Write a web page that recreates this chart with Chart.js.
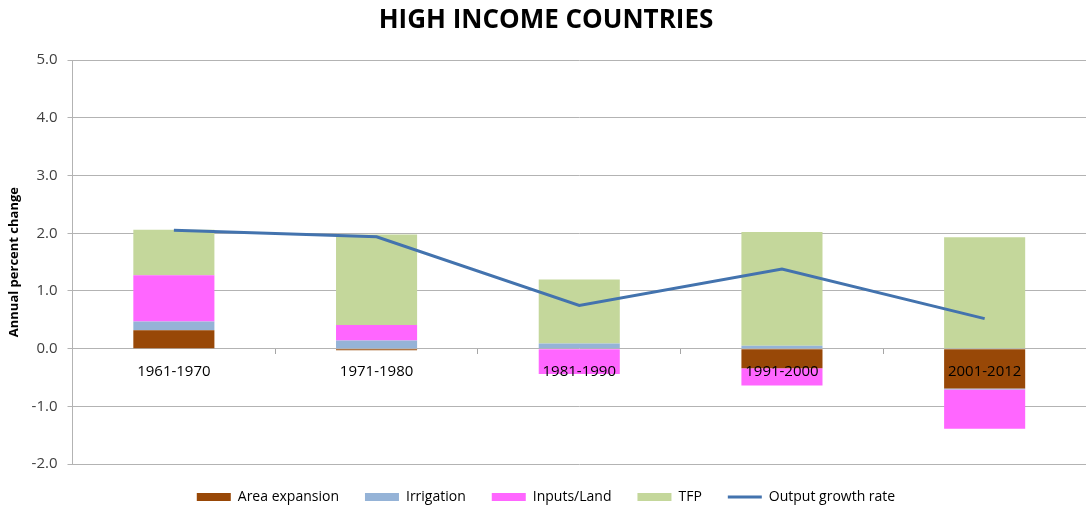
<!DOCTYPE html>
<html>
<head>
<meta charset="utf-8">
<script src="https://cdn.jsdelivr.net/npm/chart.js@4.4.0/dist/chart.umd.min.js"></script>
<style>
html,body{margin:0;padding:0;background:#fff;}
#wrap{width:1086px;height:512px;position:relative;}
</style>
</head>
<body>
<div id="wrap"><canvas id="c" width="1086" height="512"></canvas></div>
<script>
const categories = ['1961-1970', '1971-1980', '1981-1990', '1991-2000', '2001-2012'];
const areaExpansion = [0.32, -0.03, 0.00, -0.34, -0.69];
const irrigation = [0.15, 0.14, 0.09, 0.05, -0.02];
const inputsLand = [0.80, 0.27, -0.44, -0.30, -0.68];
const tfp = [0.79, 1.57, 1.11, 1.97, 1.93];
const outputGrowth = [2.05, 1.94, 0.75, 1.38, 0.52];
const yTicks = [-2, -1, 0, 1, 2, 3, 4, 5];

const FONT = "'Open Sans', Lato, sans-serif";

const barCommon = {
  type: 'bar', stack: 'bars', order: 1, borderWidth: 0,
  barPercentage: 0.4, categoryPercentage: 1.0
};

new Chart(document.getElementById('c'), {
  data: {
    labels: categories,
    datasets: [
      Object.assign({label: 'Area expansion', data: areaExpansion, backgroundColor: '#984807'}, barCommon),
      Object.assign({label: 'Irrigation', data: irrigation, backgroundColor: '#95B3D7'}, barCommon),
      Object.assign({label: 'Inputs/Land', data: inputsLand, backgroundColor: '#FF66FF'}, barCommon),
      Object.assign({label: 'TFP', data: tfp, backgroundColor: '#C4D79B'}, barCommon),
      {type: 'line', label: 'Output growth rate', data: outputGrowth, stack: 'line', order: 0,
       borderColor: '#4373AE', backgroundColor: '#4373AE', borderWidth: 3, pointRadius: 0,
       pointHoverRadius: 0, tension: 0, fill: false}
    ]
  },
  options: {
    responsive: false,
    animation: false,
    layout: {padding: {left: 6, right: 0, top: 0, bottom: -2}},
    plugins: {
      tooltip: {enabled: false},
      title: {
        display: true, text: 'HIGH INCOME COUNTRIES', color: '#000',
        font: {family: FONT, size: 26, weight: 'bold'},
        padding: {top: 5, bottom: 24}
      },
      legend: {
        position: 'bottom',
        labels: {
          color: '#000',
          font: {family: FONT, size: 14},
          usePointStyle: true,
          pointStyleWidth: 34,
          boxWidth: 34,
          boxHeight: 8,
          padding: 26,
          sort: (a, b) => a.datasetIndex - b.datasetIndex,
          generateLabels: (chart) => {
            const items = Chart.defaults.plugins.legend.labels.generateLabels(chart);
            items.forEach(it => {
              const ds = chart.data.datasets[it.datasetIndex];
              if (ds.type === 'line') {
                it.pointStyle = 'line';
                it.lineWidth = 3;
                it.strokeStyle = ds.borderColor;
              } else {
                it.pointStyle = 'rect';
                it.lineWidth = 0;
                it.strokeStyle = ds.backgroundColor;
              }
            });
            return items;
          }
        }
      }
    },
    scales: {
      x: {
        type: 'category',
        position: {y: 0},
        stacked: true,
        offset: true,
        grid: {display: true, drawOnChartArea: false, offset: true, tickLength: 5, color: '#a6a6a6'},
        border: {display: false},
        ticks: {color: '#000', font: {family: FONT, size: 15}, padding: 9, maxRotation: 0, z: 1}
      },
      y: {
        stacked: true,
        min: -2, max: 5,
        afterBuildTicks: (axis) => { axis.ticks = yTicks.map(v => ({value: v})); },
        grid: {color: '#b3b3b3', tickLength: 5, lineWidth: 1},
        border: {display: true, color: '#b3b3b3'},
        ticks: {color: '#404040', font: {family: FONT, size: 15}, padding: 10,
                callback: (v) => Number(v).toFixed(1)},
        title: {display: true, text: 'Annual percent change', color: '#000',
                font: {family: FONT, size: 13, weight: 'bold'}, padding: {top: 0, bottom: 0}}
      }
    }
  }
});
</script>
</body>
</html>
